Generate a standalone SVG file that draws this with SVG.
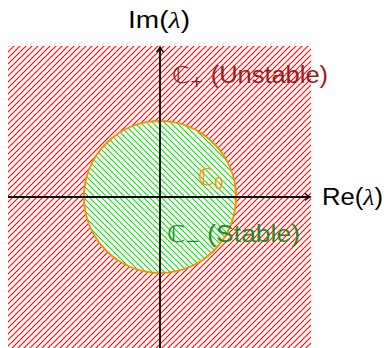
<svg xmlns="http://www.w3.org/2000/svg" width="387" height="348" viewBox="0 0 387 348">
<style>
.lbl{font-family:"Liberation Sans","DejaVu Sans",sans-serif;font-size:23px}
.bb{font-family:"DejaVu Sans",sans-serif}
.sub{font-family:"DejaVu Sans",sans-serif;font-size:15px}
.lam{font-family:"Liberation Serif",serif;font-style:italic}
.axis{stroke:#000;stroke-width:1.8;fill:none}
</style>
<defs>
<pattern id="redh" width="6" height="6" patternUnits="userSpaceOnUse">
<path d="M0,6 L6,0 M-3,3 L3,-3 M3,9 L9,3" stroke="#ff0000" stroke-width="1.1"/>
</pattern>
<pattern id="greenh" width="6" height="6" patternUnits="userSpaceOnUse">
<path d="M0,0 L6,6 M-3,3 L3,9 M3,-3 L9,3" stroke="#00e600" stroke-width="1.1"/>
</pattern>
<marker id="arr" markerWidth="10" markerHeight="10" refX="7" refY="5" orient="auto" markerUnits="userSpaceOnUse">
<path d="M2,1.5 Q4.5,4 7,5 Q4.5,6 2,8.5" fill="none" stroke="#000" stroke-width="1.5"/>
</marker>
</defs>
<g id="unstable-region">
<rect x="8" y="46" width="303" height="302" fill="url(#redh)"/>
</g>
<g id="stable-region">
<circle cx="160" cy="197" r="76" fill="#fff"/>
<circle cx="160" cy="197" r="76" fill="url(#greenh)" stroke="#ff8c00" stroke-width="2"/>
</g>
<g id="connectors">
<line class="axis" x1="8" y1="197" x2="310" y2="197" marker-end="url(#arr)"/>
<line class="axis" x1="160" y1="348" x2="160" y2="47" marker-end="url(#arr)"/>
</g>
<g id="labels">
<text class="lbl" x="128" y="28" fill="#000" textLength="62" lengthAdjust="spacingAndGlyphs">Im(<tspan class="lam">λ</tspan>)</text>
<text class="lbl" x="322" y="205" fill="#000" textLength="61" lengthAdjust="spacingAndGlyphs">Re(<tspan class="lam">λ</tspan>)</text>
<text class="lbl" x="172" y="83" fill="#9b1b1b" textLength="156" lengthAdjust="spacingAndGlyphs"><tspan class="bb">ℂ</tspan><tspan class="sub" dy="4">+</tspan><tspan dy="-4"> (Unstable)</tspan></text>
<text class="lbl" x="198" y="185" fill="#ff8c00"><tspan class="bb">ℂ</tspan><tspan class="sub" dy="4">0</tspan></text>
<text class="lbl" x="167" y="242" fill="#228b22" textLength="133" lengthAdjust="spacingAndGlyphs"><tspan class="bb">ℂ</tspan><tspan class="sub" dy="4">−</tspan><tspan dy="-4"> (Stable)</tspan></text>
</g>
</svg>
